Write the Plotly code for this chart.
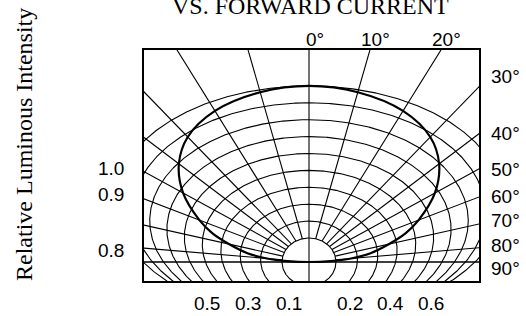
import numpy as np
import plotly.graph_objects as go

# ---------------- data ----------------
angle_deg = [0, 10, 20, 30, 40, 50, 60, 65, 70, 75, 80, 85, 90]
rel_intensity = [1.00, 0.985, 0.945, 0.88, 0.795, 0.68, 0.54, 0.455, 0.36, 0.265, 0.17, 0.08, 0.0]

ring_levels = [0.1, 0.2, 0.3, 0.4, 0.5, 0.6, 0.7, 0.8, 0.9, 1.0]
spoke_deg = [0, 10, 20, 30, 40, 50, 60, 70, 80, 90]

top_labels = ["0°", "10°", "20°"]
top_label_deg = [0, 10, 20]
side_labels = ["30°", "40°", "50°", "60°", "70°", "80°", "90°"]
side_label_deg = [30, 40, 50, 60, 70, 80, 90]
scale_left_labels = ["0.5", "0.3", "0.1"]
scale_left_values = [0.5, 0.3, 0.1]
scale_right_labels = ["0.2", "0.4", "0.6"]
scale_right_values = [0.2, 0.4, 0.6]
left_axis_labels = ["1.0", "0.9", "0.8"]
title_text = "VS. FORWARD CURRENT"
y_title = "Relative Luminous Intensity"

# ---------------- geometry of the drawn (distorted) polar grid ----------------
W, H = 526, 316
OX, OY = 309, 262            # pixel position of the pole
BOX_L, BOX_R, BOX_T, BOX_B = 144, 479, 50, 281
# horizontal stretch of the angle lines, as drawn in the original figure
K_KNOT_DEG = [0, 10, 20, 30, 40, 50, 60, 70, 80, 90]
K_KNOT_VAL = [1.60, 1.63, 1.71, 1.68, 1.58, 1.53, 1.51, 1.63, 2.10, 2.10]
SCALE_PX = 204               # px per unit for the bottom scale labels


def ring_params(r):
    """top height v, centre lift c, half-height b, half-width a of ring r (pixels)."""
    r = np.asarray(r, dtype=float)
    rr = np.maximum(r, 0.1)
    u = (rr - 0.1) / 0.9
    v = 24.0 + 152.1 * u
    c = 60.0 * u ** 1.5
    h = 27.0 + 199.0 * u - 60.0 * u ** 2
    b = v - c
    a = h / np.sqrt(1.0 - (c / b) ** 2)
    f = np.where(r < 0.1, r / 0.1, 1.0)
    return v * f, c * f, b * f, a * f


def app_angle(theta_deg):
    theta_deg = np.asarray(theta_deg, dtype=float)
    k = np.interp(np.abs(theta_deg) % 180, K_KNOT_DEG, K_KNOT_VAL)
    th = np.radians(theta_deg)
    return np.arctan2(k * np.sin(th), np.cos(th))


def to_xy(r, theta_deg):
    v, c, b, a = ring_params(r)
    ang = app_angle(theta_deg)
    s, cc = np.sin(ang), np.cos(ang)
    A2 = s ** 2 / a ** 2 + cc ** 2 / b ** 2
    B1 = cc * c / b ** 2
    C0 = c ** 2 / b ** 2 - 1.0
    with np.errstate(invalid="ignore", divide="ignore"):
        t = (B1 + np.sqrt(B1 ** 2 - A2 * C0)) / A2
    t = np.where(np.asarray(r) <= 0, 0.0, t)
    return t * s, t * cc


def paper_x(p):
    return (p - BOX_L) / (BOX_R - BOX_L)


def paper_y(p):
    return (BOX_B - p) / (BOX_B - BOX_T)


fig = go.Figure()

# rings
rx, ry = [], []
psi = np.linspace(0, 2 * np.pi, 721)
for r in ring_levels:
    v, c, b, a = [float(q) for q in ring_params(r)]
    rx += list(a * np.sin(psi)) + [None]
    ry += list(c + b * np.cos(psi)) + [None]
fig.add_trace(go.Scatter(x=rx, y=ry, mode="lines", line=dict(color="black", width=1.1),
                         hoverinfo="skip", showlegend=False))

# spokes
sx, sy = [], []
for d in spoke_deg:
    for sgn in ([1, -1] if d != 0 else [1]):
        th = sgn * d
        a1 = app_angle(th)
        x1, y1 = 400 * np.sin(a1), 400 * np.cos(a1)
        if d in (0, 90):
            x0, y0 = -x1, -y1
        else:
            x0, y0 = to_xy(ring_levels[0], th)
        sx += [float(x0), float(x1), None]
        sy += [float(y0), float(y1), None]
fig.add_trace(go.Scatter(x=sx, y=sy, mode="lines", line=dict(color="black", width=1.1),
                         hoverinfo="skip", showlegend=False))

# radiation pattern
th_all = [-a for a in angle_deg[::-1]] + angle_deg[1:]
r_all = rel_intensity[::-1] + rel_intensity[1:]
cx, cy = to_xy(np.array(r_all), np.array(th_all, dtype=float))
fig.add_trace(go.Scatter(x=cx, y=cy, mode="lines",
                         line=dict(color="black", width=2.2, shape="spline", smoothing=1.0),
                         hoverinfo="skip", showlegend=False))

ann = []
sans = dict(family="Liberation Sans, Arial", size=19, color="black")
serif = dict(family="Liberation Serif, Times New Roman", size=24, color="black")

# top angle labels (at the top end of their spoke)
for lab, d in zip(top_labels, top_label_deg):
    xe = OX + (OY - BOX_T) * np.tan(app_angle(d))
    ann.append(dict(x=paper_x(float(xe) + 6), y=paper_y(40), text=lab))

# side angle labels (at the right end of their spoke)
side_nudge = [-10, 0, 1, -1, -4, -2, 6]
for lab, d, n in zip(side_labels, side_label_deg, side_nudge):
    a = app_angle(d)
    ye = OY - ((BOX_R - OX) / np.tan(a) if d != 90 else 0.0)
    ann.append(dict(x=paper_x(489), y=paper_y(float(ye) + n), text=lab, xanchor="left"))

# bottom scale labels
for lab, v in zip(scale_left_labels, scale_left_values):
    ann.append(dict(x=paper_x(OX - SCALE_PX * v), y=paper_y(303), text=lab))
for lab, v in zip(scale_right_labels, scale_right_values):
    ann.append(dict(x=paper_x(OX + SCALE_PX * v), y=paper_y(303), text=lab))

# left labels (companion intensity axis)
for lab, yy in zip(left_axis_labels, [168, 194.5, 250.5]):
    ann.append(dict(x=paper_x(126), y=paper_y(yy), text=lab, xanchor="right"))

for a_ in ann:
    a_.update(xref="paper", yref="paper", showarrow=False, font=sans)
    a_.setdefault("xanchor", "center")
    a_.setdefault("yanchor", "middle")

ann.append(dict(x=paper_x(310.5), y=paper_y(6), xref="paper", yref="paper", text=title_text,
                showarrow=False, xanchor="center", yanchor="middle", font=serif))
ann.append(dict(x=paper_x(24), y=paper_y(145), xref="paper", yref="paper", text=y_title,
                showarrow=False, xanchor="center", yanchor="middle", textangle=-90, font=serif))

axis_common = dict(showgrid=False, zeroline=False, showticklabels=False, ticks="",
                   showline=True, mirror=True, linecolor="black", linewidth=2, fixedrange=True)
fig.update_layout(
    width=W, height=H,
    margin=dict(l=BOX_L, r=W - BOX_R, t=BOX_T, b=H - BOX_B),
    paper_bgcolor="white", plot_bgcolor="white",
    xaxis=dict(range=[BOX_L - OX, BOX_R - OX], **axis_common),
    yaxis=dict(range=[OY - BOX_B, OY - BOX_T], **axis_common),
    annotations=ann,
    showlegend=False,
)

fig.write_html("out.html", config={"displayModeBar": False, "staticPlot": True},
               post_script="document.body.style.margin='0';document.body.style.overflow='hidden';")
